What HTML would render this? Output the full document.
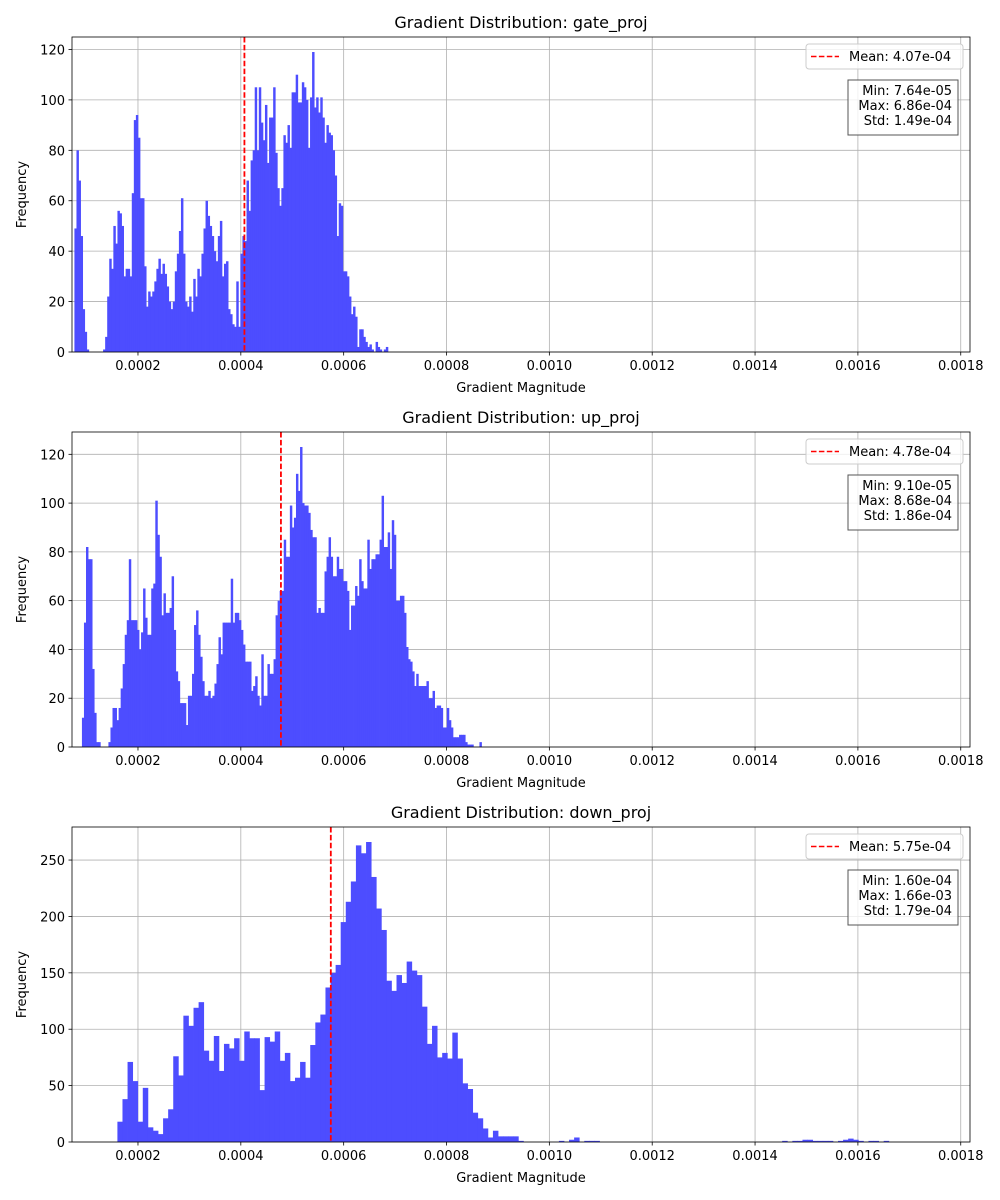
<!DOCTYPE html>
<html><head><meta charset="utf-8"><title>Gradient Distributions</title>
<style>
html,body{margin:0;padding:0;background:#fff;}
svg{display:block;font-family:"DejaVu Sans","Liberation Sans",sans-serif;}
</style></head>
<body>
<svg id="chart" width="1000" height="1200" viewBox="0 0 1000 1200" xmlns="http://www.w3.org/2000/svg"></svg>
<script>
const panelTitles = ["gate_proj","up_proj","down_proj"];
const gateCounts = [49,80,68,46,17,8,1,0,0,0,0,0,0,0,1,6,22,37,33,50,43,56,55,50,30,33,33,30,63,92,94,85,61,61,34,18,24,22,24,28,33,37,31,35,31,26,20,17,20,32,39,48,61,39,20,18,22,16,29,22,33,30,39,49,60,54,50,46,40,36,46,52,
30,35,36,17,15,11,10,28,10,39,46,44,68,56,76,80,105,80,105,91,84,98,75,93,93,105,79,65,58,65,86,83,90,81,103,103,110,99,99,107,105,100,81,101,119,97,101,95,101,93,83,90,87,86,80,70,46,59,58,32,32,30,22,15,18,14,2,9,9,6,
4,2,3,1,0,4,2,1,0,1,2];
const upCounts = [12,51,82,77,77,32,14,2,2,0,0,0,0,2,8,16,16,11,16,24,34,46,52,77,52,52,52,48,40,47,65,53,46,46,65,67,101,87,78,54,63,55,55,57,70,48,31,27,18,18,18,9,21,21,30,50,56,46,37,27,21,21,23,20,21,
26,34,45,38,51,51,51,51,69,51,55,55,52,48,42,35,35,35,23,25,29,21,17,38,21,21,34,30,30,36,54,60,64,64,85,78,78,99,90,94,112,105,123,100,99,99,96,89,86,86,55,57,55,55,72,78,86,78,70,70,78,73,73,68,68,
64,48,58,58,66,62,77,68,65,65,85,73,77,77,79,79,85,103,82,82,88,73,93,87,60,60,62,62,55,41,36,35,31,25,30,25,25,25,25,27,20,20,23,16,17,17,16,8,8,16,11,8,4,4,4,5,5,5,2,1,1,1,0,0,0,2];
const downCounts = [18,38,71,54,18,48,13,10,7,21,29,76,59,112,103,119,124,81,72,94,63,87,83,92,72,98,92,92,46,93,89,98,72,79,54,57,71,57,
86,106,113,137,150,157,195,213,231,263,256,266,235,207,188,143,134,148,141,160,152,148,120,87,103,75,79,74,97,74,52,47,26,21,12,4,10,5,
5,5,5,
1,0,0,0,0,0,0,0,1,0,2,4,0,1,1,1,
0,0,0,0,0,0,0,0,0,0,0,0,0,0,0,0,0,0,0,0,0,0,0,0,0,0,0,0,0,0,0,0,0,0,0,0,
1,0,1,1,2,2,1,1,1,1,0,1,2,3,2,1,0,1,1,0,1];
const mins = [7.64e-5, 9.10e-5, 1.60e-4];
const maxs = [6.86e-4, 8.68e-4, 1.66e-3];
const means = [4.07e-4, 4.78e-4, 5.75e-4];
const stds = [1.49e-4, 1.86e-4, 1.79e-4];
const xTicks = [0.0002,0.0004,0.0006,0.0008,0.0010,0.0012,0.0014,0.0016,0.0018];
const xTickLabels = ["0.0002","0.0004","0.0006","0.0008","0.0010","0.0012","0.0014","0.0016","0.0018"];
const yTicksGate = [0,20,40,60,80,100,120];
const yTicksUp = [0,20,40,60,80,100,120];
const yTicksDown = [0,50,100,150,200,250];

const allCounts=[gateCounts,upCounts,downCounts];
const allYTicks=[yTicksGate,yTicksUp,yTicksDown];
const NS="http://www.w3.org/2000/svg";
const svg=document.getElementById('chart');
const L=72,R=970,XMIN=0.0000717,XMAX=0.001818;
const tops=[37,432,827], H=315;
function xs(v){return L+(v-XMIN)/(XMAX-XMIN)*(R-L);}
function mk(tag,attrs,parent){const e=document.createElementNS(NS,tag);for(const k in attrs)e.setAttribute(k,attrs[k]);(parent||svg).appendChild(e);return e;}
function fmt(v){let s=v.toExponential(2);return s.replace(/e([+-])(\d)$/,'e$10$2');}

for(let p=0;p<3;p++){
  const top=tops[p],bot=top+H,counts=allCounts[p];
  const g=mk('g',{});
  
  
  const cmax=Math.max(...counts), ymax=cmax*1.05;
  const ys=v=>bot-v/ymax*H;
  xTicks.forEach((t,i)=>{
    const x=xs(t);
    const gl=mk('line',{x1:x,x2:x,y1:top,y2:bot,stroke:'#b0b0b0','stroke-width':0.8},g);
    
    
  });
  allYTicks[p].forEach(t=>{
    const y=ys(t);
    const gl=mk('line',{x1:L,x2:R,y1:y,y2:y,stroke:'#b0b0b0','stroke-width':0.8},g);
    
    
  });
  const n=counts.length,w=(maxs[p]-mins[p])/n;
  counts.forEach((c,i)=>{
    if(c<=0)return;
    const x0=xs(mins[p]+i*w),x1=xs(mins[p]+(i+1)*w);
    const b=mk('rect',{x:x0,y:ys(c),width:Math.max(x1-x0+0.4,0.5),height:bot-ys(c),fill:'#4d4dff'},g);
    
    
  });
  const mx=xs(means[p]);
  const ml=mk('line',{x1:mx,x2:mx,y1:top,y2:bot,stroke:'#ff0000','stroke-width':1.8,'stroke-dasharray':'5.5,2.4'},g);
  
  
  const fr=mk('rect',{x:L,y:top,width:R-L,height:H,fill:'none',stroke:'#000','stroke-width':0.8},g);
  
  
  xTicks.forEach((t,i)=>{
    const x=xs(t);
    mk('line',{x1:x,x2:x,y1:bot,y2:bot+3.5,stroke:'#000','stroke-width':0.8},g);
    const tx=mk('text',{x:x,y:bot+18,'font-size':13,'text-anchor':'middle',fill:'#000'},g);
    tx.textContent=xTickLabels[i];
    
    
  });
  allYTicks[p].forEach(t=>{
    const y=ys(t);
    mk('line',{x1:L-3.5,x2:L,y1:y,y2:y,stroke:'#000','stroke-width':0.8},g);
    const ty=mk('text',{x:L-7,y:y+5,'font-size':13,'text-anchor':'end',fill:'#000'},g);
    ty.textContent=String(t);
    
    
  });
  const xl=mk('text',{x:(L+R)/2,y:bot+40,'font-size':13,'text-anchor':'middle'},g);
  xl.textContent='Gradient Magnitude';
  
  
  const yl=mk('text',{x:0,y:0,'font-size':13,'text-anchor':'middle',transform:`translate(26,${top+H/2}) rotate(-90)`},g);
  yl.textContent='Frequency';
  
  
  const ti=mk('text',{x:(L+R)/2,y:top-9,'font-size':16,'text-anchor':'middle'},g);
  ti.textContent='Gradient Distribution: '+panelTitles[p];
  
  
  const lg=mk('g',{},g);
  
  
  mk('rect',{x:806,y:top+7,width:157,height:25,rx:3,fill:'#fff','fill-opacity':0.8,stroke:'#cccccc','stroke-width':1},lg);
  mk('line',{x1:811,x2:839,y1:top+19.5,y2:top+19.5,stroke:'#ff0000','stroke-width':1.5,'stroke-dasharray':'5.5,2.4'},lg);
  const lt=mk('text',{x:849,y:top+24,'font-size':13},lg);
  lt.textContent='Mean: '+fmt(means[p]);
  
  
  const sb=mk('g',{},g);
  
  
  mk('rect',{x:848,y:top+43,width:110,height:55,fill:'#fff','fill-opacity':0.8,stroke:'#555','stroke-width':1},sb);
  ['Min: '+fmt(mins[p]),'Max: '+fmt(maxs[p]),'Std: '+fmt(stds[p])].forEach((s,i)=>{
    const st=mk('text',{x:952,y:top+58+i*15,'font-size':13,'text-anchor':'end'},sb);
    st.textContent=s;
    
    
  });
}
</script>
</body></html>
